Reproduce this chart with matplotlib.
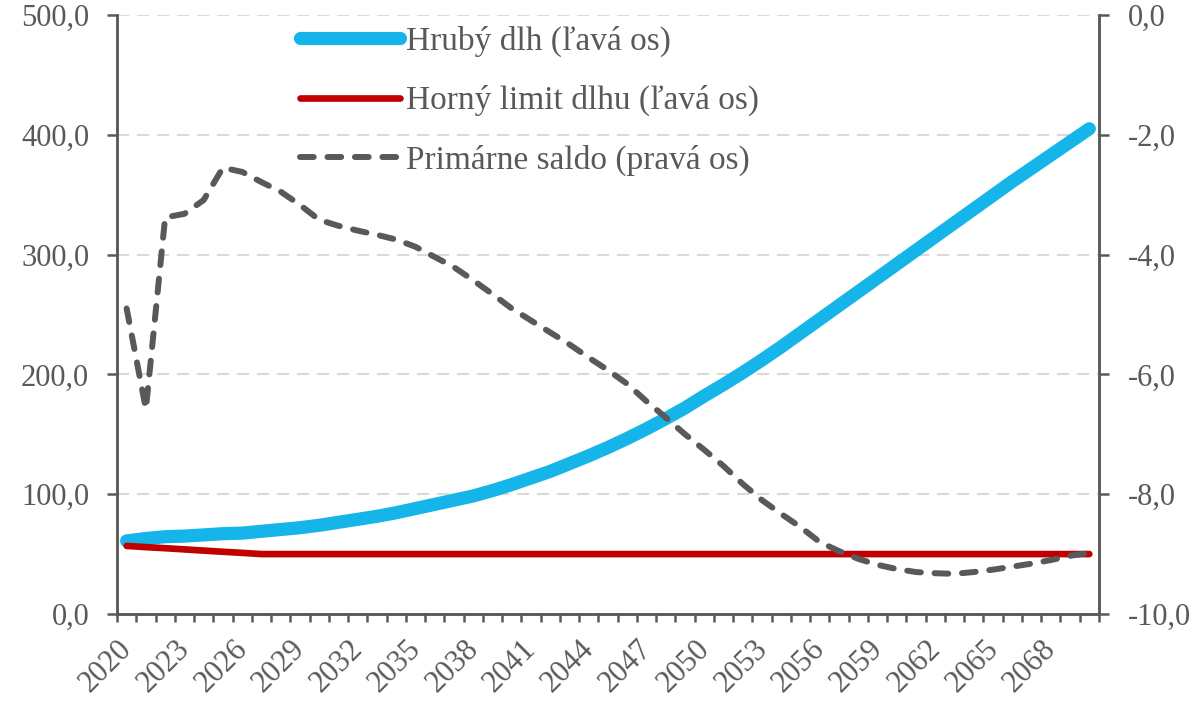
import numpy as np
import matplotlib.pyplot as plt
import matplotlib.transforms as mtransforms
from matplotlib.ticker import FuncFormatter

plt.rcParams['font.family'] = ['Liberation Serif', 'DejaVu Serif']

# údaje odčítané z grafu
years = list(range(2020, 2071))

hruby_dlh = [61, 63, 64.5, 65, 66, 67, 67.5, 69, 70.5, 72,
             74, 76.5, 79, 81.5, 84.5, 88, 91.5, 95, 98.5, 103,
             108, 113.5, 119, 125.5, 132, 139, 146.5, 154.5, 163, 172,
             182, 191.5, 201.5, 212, 223, 234.5, 246, 257.5, 269, 280.5,
             292, 303.5, 315, 326.5, 338, 349.5, 361, 372, 383, 394,
             405]

horny_limit = [56.8, 55.8, 54.9, 53.9, 52.9, 51.9, 51.0, 50.0] + [50.0] * 43

primarne_saldo = [-4.90, -6.58, -3.38, -3.32, -3.09, -2.55, -2.62, -2.79, -2.95, -3.17,
                  -3.42, -3.52, -3.60, -3.67, -3.75, -3.87, -4.04, -4.21, -4.43, -4.66,
                  -4.90, -5.10, -5.30, -5.50, -5.72, -5.93, -6.16, -6.45, -6.72, -7.00,
                  -7.26, -7.53, -7.83, -8.10, -8.33, -8.55, -8.80, -8.95, -9.08, -9.18,
                  -9.25, -9.30, -9.32, -9.33, -9.30, -9.26, -9.21, -9.16, -9.10, -9.03,
                  -8.98]

labels = ['Hrubý dlh (ľavá os)', 'Horný limit dlhu (ľavá os)', 'Primárne saldo (pravá os)']

gray = '#595959'
x = np.arange(len(years))

fig = plt.figure(figsize=(11.94, 7.02), dpi=100)
ax = fig.add_axes([0.098, 0.1254, 0.8224, 0.8533])

l1, = ax.plot(x, hruby_dlh, color='#15B5E9', lw=9.5, solid_capstyle='round')
l2, = ax.plot(x, horny_limit, color='#C00000', lw=4.8, solid_capstyle='round')

ax2 = ax.twinx()
l3, = ax2.plot(x, primarne_saldo, color='#58595B', lw=4.3,
               dashes=(2.3, 2.3), dash_capstyle='round')

ax.set_xlim(-0.5, len(years) - 0.5)
ax.set_ylim(0, 500)
ax2.set_ylim(-10, 0)
ax.set_yticks(range(0, 501, 100))
ax2.set_yticks(range(-10, 1, 2))

fmt = FuncFormatter(lambda v, p: f'{v:.1f}'.replace('.', ','))
ax.yaxis.set_major_formatter(fmt)
ax2.yaxis.set_major_formatter(fmt)

ax.set_axisbelow(True)
ax.grid(axis='y', color='#D9D9D9', lw=1.5, linestyle=(0, (5.8, 3.8)))

# x os: značky medzi kategóriami, popisky každé 3 roky
ax.set_xticks(x[::3])
ax.set_xticklabels([str(y) for y in years[::3]], rotation=45, ha='right')
ax.set_xticks(np.arange(-0.5, len(years)), minor=True)
ax.tick_params(axis='x', which='major', length=0, pad=15, labelsize=22, labelcolor=gray)
ax.tick_params(axis='x', which='minor', length=6, width=1.8, color=gray, direction='out')
shift = mtransforms.ScaledTranslation(8 / 72, 0, fig.dpi_scale_trans)
for lab in ax.get_xticklabels():
    lab.set_transform(lab.get_transform() + shift)

ax.tick_params(axis='y', length=7, width=1.8, color=gray, pad=13, labelsize=22, labelcolor=gray)
ax2.tick_params(axis='y', length=7, width=1.8, color=gray, pad=14, labelsize=22, labelcolor=gray)

for a in (ax, ax2):
    a.spines['top'].set_visible(False)
    for s in ('left', 'right', 'bottom'):
        a.spines[s].set_color(gray)
        a.spines[s].set_linewidth(1.8)

leg = ax2.legend([l1, l2, l3], labels, loc='upper left',
                 bbox_to_anchor=(0.2513, 0.9635), bbox_transform=fig.transFigure,
                 frameon=False, fontsize=24, handlelength=3.0, handletextpad=0.18,
                 labelspacing=0.85, borderaxespad=0, borderpad=0)
for t in leg.get_texts():
    t.set_color(gray)

fig.savefig('out.png', dpi=100)
